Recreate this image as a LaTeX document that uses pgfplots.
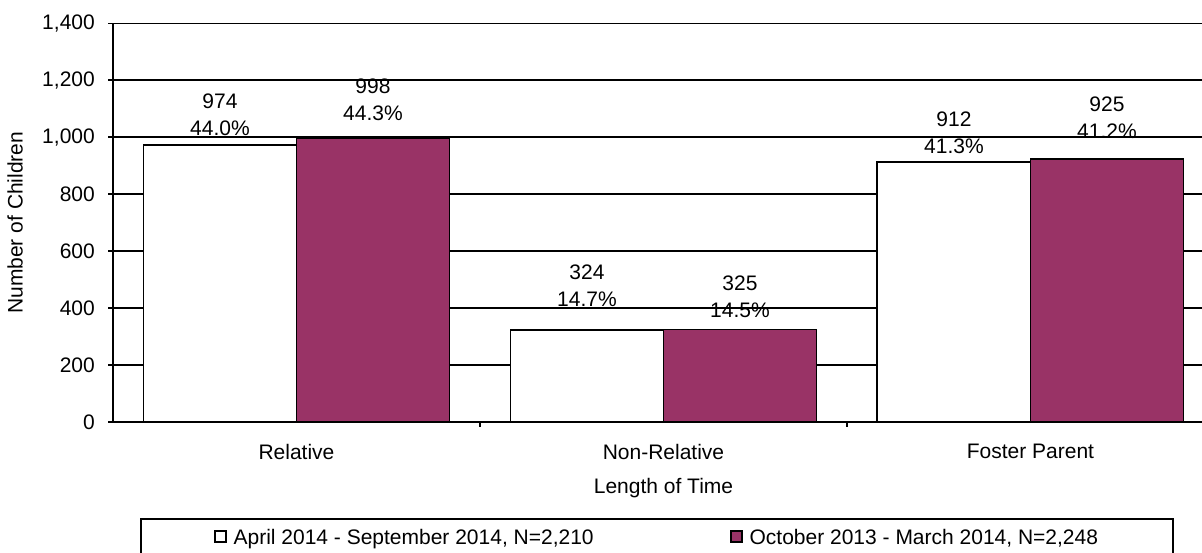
\documentclass[border=0pt]{standalone}
\usepackage{fontspec}
\setmainfont{Liberation Sans}
\usepackage{pgfplots}
\usepackage{pgfplotstable}
\pgfplotsset{compat=1.18}
\definecolor{plum}{HTML}{993366}
\pgfplotstableread{
x y pct dy
0 974 44.0 8.3
1 324 14.7 22
2 912 41.3 8
}\datawhite
\pgfplotstableread{
x y pct dy
0 998 44.3 16
1 325 14.5 11
2 925 41.2 19
}\datapurple
\begin{document}
\fontsize{21bp}{27bp}\selectfont
\begin{tikzpicture}
\useasboundingbox (0,0) rectangle (1202bp,553bp);
\begin{axis}[
  at={(113bp,131bp)}, anchor=south west,
  scale only axis, width=1101bp, height=398.5bp,
  xmin=-0.5, xmax=2.5, ymin=0, ymax=1400,
  axis x line*=bottom, axis y line*=left,
  axis line style={-, line width=2bp, black},
  /pgf/number format/assume math mode=true,
  /pgf/number format/1000 sep={,},
  ytick={0,200,...,1200},
  extra y ticks={1400},
  extra y tick style={grid style={gray!85, line width=2.3bp}},
  ymajorgrids,
  major grid style={black, line width=1.9bp},
  tick align=inside,
  major tick length=4.5bp,
  ytick style={black, line width=1.9bp, xshift=-4.5bp},
  xtick style={black, line width=1.9bp},
  yticklabel style={xshift=-11bp},
  xtick={0.5,1.5}, xticklabels={},
  extra x ticks={0,1,2},
  extra x tick labels={Relative,Non-Relative,Foster Parent},
  extra x tick style={major tick length=0pt, xticklabel style={yshift=-15bp}},
  xlabel={Length of Time},
  xlabel style={at={(axis description cs:0.5,-0.1656)}, anchor=center},
  ylabel={Number of Children},
  ylabel style={at={(axis description cs:-0.089,0.5)}, anchor=center},
  ybar, bar width=0.417,
  legend columns=2,
  legend cell align=left,
  legend style={at={(axis description cs:0.494,-0.241)}, anchor=north,
    draw=black, line width=2bp, inner xsep=73bp, inner ysep=8bp,
    /tikz/every odd column/.append style={column sep=5bp},
    /tikz/every even column/.append style={column sep=134bp}},
  legend image code/.code={\draw[#1, line width=1.9bp] (0bp,-3.5bp) rectangle (11bp,7.5bp);},
  nodes near coords={\pgfmathprintnumber{\pgfplotspointmeta}\\\pgfmathprintnumber[fixed, fixed zerofill, precision=1]{\pct}\%},
  every node near coord/.append style={align=center, inner sep=0pt, anchor=south, yshift=\dy bp, black},
  visualization depends on={\thisrow{pct} \as \pct},
  visualization depends on={\thisrow{dy} \as \dy},
]
\addplot[bar shift=-0.2085, fill=white, draw=black, line width=1.9bp] table[x=x, y=y] {\datawhite};
\addplot[bar shift=0.2085, fill=plum, draw=black, line width=1.9bp] table[x=x, y=y] {\datapurple};
\legend{April 2014 - September 2014{,} N=2{,}210, October 2013 - March 2014{,} N=2{,}248}
\end{axis}
\end{tikzpicture}
\end{document}
